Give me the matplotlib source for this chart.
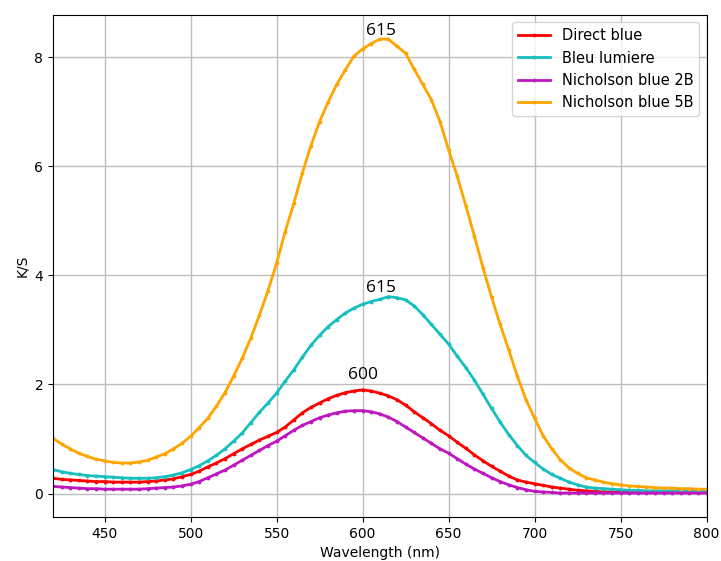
import numpy as np
import matplotlib
matplotlib.use("Agg")
import matplotlib.pyplot as plt

wavelength = list(range(420, 805, 5))

direct_blue = [0.28, 0.26, 0.25, 0.24, 0.23, 0.22, 0.22, 0.21, 0.21, 0.21,
               0.21, 0.22, 0.23, 0.25, 0.27, 0.31, 0.35, 0.41, 0.49, 0.56,
               0.64, 0.73, 0.82, 0.90, 0.98, 1.05, 1.12, 1.22, 1.35, 1.48,
               1.58, 1.66, 1.74, 1.80, 1.85, 1.88, 1.90, 1.88, 1.84, 1.79,
               1.72, 1.62, 1.50, 1.39, 1.28, 1.16, 1.06, 0.94, 0.83, 0.71,
               0.60, 0.50, 0.41, 0.32, 0.25, 0.21, 0.18, 0.15, 0.12, 0.10,
               0.08, 0.06, 0.05, 0.04, 0.03, 0.03, 0.02, 0.02, 0.02, 0.02,
               0.02, 0.02, 0.02, 0.02, 0.02, 0.02, 0.02]

bleu_lumiere = [0.44, 0.40, 0.37, 0.35, 0.33, 0.32, 0.31, 0.30, 0.29, 0.28,
                0.28, 0.28, 0.29, 0.31, 0.34, 0.38, 0.44, 0.51, 0.60, 0.70,
                0.82, 0.96, 1.11, 1.30, 1.49, 1.66, 1.84, 2.06, 2.27, 2.50,
                2.72, 2.90, 3.06, 3.19, 3.31, 3.40, 3.47, 3.52, 3.56, 3.61,
                3.59, 3.55, 3.44, 3.28, 3.10, 2.92, 2.74, 2.52, 2.31, 2.08,
                1.82, 1.56, 1.31, 1.08, 0.88, 0.70, 0.57, 0.45, 0.35, 0.28,
                0.21, 0.16, 0.12, 0.10, 0.09, 0.08, 0.07, 0.06, 0.06, 0.05,
                0.05, 0.05, 0.05, 0.05, 0.05, 0.05, 0.05]

nicholson_2b = [0.13, 0.12, 0.11, 0.10, 0.09, 0.09, 0.08, 0.08, 0.08, 0.08,
                0.08, 0.09, 0.10, 0.11, 0.12, 0.14, 0.17, 0.22, 0.29, 0.36,
                0.43, 0.52, 0.61, 0.70, 0.79, 0.88, 0.96, 1.06, 1.16, 1.25,
                1.32, 1.39, 1.44, 1.48, 1.51, 1.52, 1.52, 1.50, 1.46, 1.40,
                1.32, 1.22, 1.12, 1.02, 0.92, 0.82, 0.74, 0.64, 0.54, 0.45,
                0.37, 0.29, 0.22, 0.16, 0.11, 0.07, 0.04, 0.03, 0.02, 0.01,
                0.01, 0.01, 0.01, 0.01, 0.01, 0.01, 0.01, 0.01, 0.01, 0.01,
                0.01, 0.01, 0.01, 0.01, 0.01, 0.01, 0.01]

nicholson_5b = [1.01, 0.91, 0.82, 0.74, 0.68, 0.63, 0.60, 0.57, 0.56, 0.56,
                0.58, 0.61, 0.67, 0.73, 0.82, 0.92, 1.05, 1.21, 1.38, 1.60,
                1.85, 2.15, 2.48, 2.85, 3.27, 3.72, 4.22, 4.80, 5.32, 5.88,
                6.38, 6.82, 7.18, 7.50, 7.77, 8.02, 8.15, 8.25, 8.33, 8.33,
                8.20, 8.07, 7.78, 7.50, 7.22, 6.82, 6.30, 5.82, 5.28, 4.72,
                4.14, 3.60, 3.10, 2.63, 2.15, 1.72, 1.38, 1.06, 0.82, 0.62,
                0.47, 0.37, 0.29, 0.25, 0.21, 0.18, 0.16, 0.14, 0.13, 0.12,
                0.11, 0.10, 0.10, 0.09, 0.09, 0.08, 0.08]

series_names = ["Direct blue", "Bleu lumiere", "Nicholson blue 2B", "Nicholson blue 5B"]
series_colors = ["#ff0000", "#17bfbf", "#bf17bf", "#ffa500"]

peak_labels = ["615", "615", "600"]
peak_x = [610.5, 610.5, 600]
peak_y = [8.48, 3.77, 2.17]

fig = plt.figure(figsize=(7.21, 5.61), dpi=100)
ax = fig.add_axes([0.0735, 0.0784, 0.9065, 0.8946])

for name, vals, col in zip(series_names,
                           [direct_blue, bleu_lumiere, nicholson_2b, nicholson_5b],
                           series_colors):
    ax.plot(wavelength, vals, color=col, marker='.', markersize=3.5,
            linewidth=2, label=name)

for txt, xx, yy in zip(peak_labels, peak_x, peak_y):
    ax.text(xx, yy, txt, ha='center', va='center', fontsize=12.5,
            family=['Open Sans', 'DejaVu Sans'], color='black')

ax.set_xlim(420, 800)
ax.set_ylim(-0.43, 8.77)
ax.set_xticks([450, 500, 550, 600, 650, 700, 750, 800])
ax.set_yticks([0, 2, 4, 6, 8])
ax.grid(True, color='#bdbdbd', linewidth=1)
ax.set_axisbelow(True)
ax.tick_params(labelsize=10)
ax.set_xlabel("Wavelength (nm)", fontsize=10)
ax.set_ylabel("K/S", fontsize=10)
ax.legend(loc='upper right', fontsize=10.5, handlelength=2.2)

fig.savefig("out.png", dpi=100)
